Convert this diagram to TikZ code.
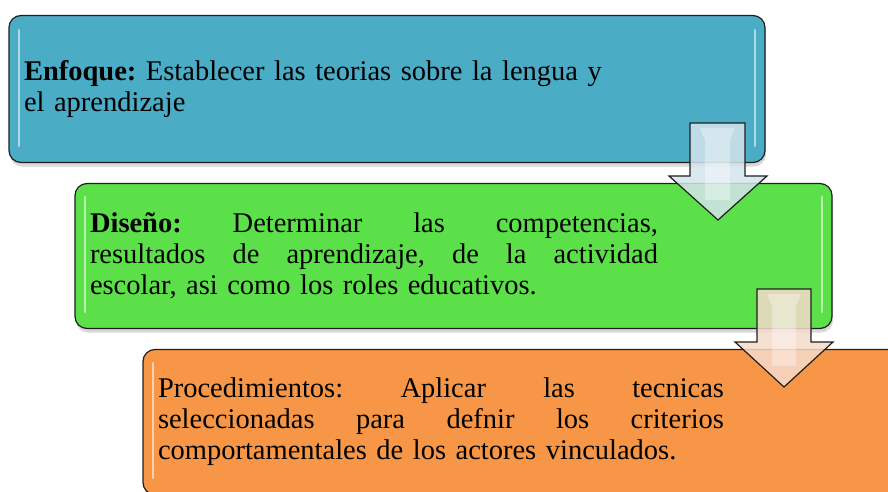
\documentclass[tikz,border=0pt]{standalone}
\usepackage{fontspec}
\setmainfont{Liberation Serif}
\usetikzlibrary{shadows}
\definecolor{aqua}{RGB}{75,172,198}
\definecolor{grassgreen}{RGB}{92,224,74}
\definecolor{tangerine}{RGB}{246,150,70}
\definecolor{arrowblue}{RGB}{212,228,236}
\definecolor{arrowpeach}{RGB}{245,218,202}
\definecolor{edge}{RGB}{30,30,30}
\frenchspacing

\tikzset{
  etapa/.style={draw=edge, line width=1.2pt, rounded corners=12pt,
    inner xsep=15pt, inner ysep=0pt, align=left,
    font=\fontsize{28.5}{31}\selectfont,
    drop shadow={shadow xshift=1pt, shadow yshift=-4pt, opacity=.3}},
  flecha/.style={draw=edge, line width=1.2pt, fill opacity=.85, line join=miter},
  brillo/.style={line width=2.5pt, white, opacity=.55, line cap=round}
}

\begin{document}
\begin{tikzpicture}[x=1pt,y=-1pt]
\useasboundingbox (0,0) rectangle (888,492);
\clip (0,0) rectangle (888,492);

% three stages
\node[etapa, fill=aqua, text width=726pt, minimum height=147pt] (enfoque) at (387,89)
  {\textbf{Enfoque:} Establecer las teorias sobre la lengua y\\el aprendizaje};
\node[etapa, fill=grassgreen, text width=727pt, minimum height=145pt] (diseno) at (453.5,256)
  {\makebox[568pt][l]{\textbf{Diseño:}\hfill Determinar\hfill las\hfill competencias,}\\
   \makebox[568pt][l]{resultados\hfill de\hfill aprendizaje,\hfill de\hfill la\hfill actividad}\\
   escolar, asi como los roles educativos.};
\node[etapa, fill=tangerine, text width=727pt, minimum height=145pt] (proced) at (521.5,422)
  {\makebox[566pt][l]{Procedimientos:\hfill Aplicar\hfill las\hfill tecnicas}\\
   \makebox[566pt][l]{seleccionadas\hfill para\hfill defnir\hfill los\hfill criterios}\\
   comportamentales de los actores vinculados.};

% gloss on the box edges
\draw[brillo] (19,30) -- (19,146);
\draw[brillo] (755,30) -- (755,146);
\draw[brillo] (85,197) -- (85,312);
\draw[brillo] (822,197) -- (822,312);
\draw[brillo] (153,363) -- (153,478);

% block arrows
\filldraw[flecha, fill=arrowblue] (690,123) -- (745,123) -- (745,176) -- (767,176)
  -- (718,220) -- (669,176) -- (690,176) -- cycle;
\fill[white, opacity=.35] (700,128) -- (735,128) -- (730,140) -- (730,200) -- (705,200) -- (705,140) -- cycle;
\filldraw[flecha, fill=arrowpeach] (757,289) -- (811,289) -- (811,342) -- (833,342)
  -- (784,387) -- (735,342) -- (757,342) -- cycle;
\fill[white, opacity=.35] (767,294) -- (801,294) -- (796,306) -- (796,366) -- (772,366) -- (772,306) -- cycle;
\end{tikzpicture}
\end{document}
